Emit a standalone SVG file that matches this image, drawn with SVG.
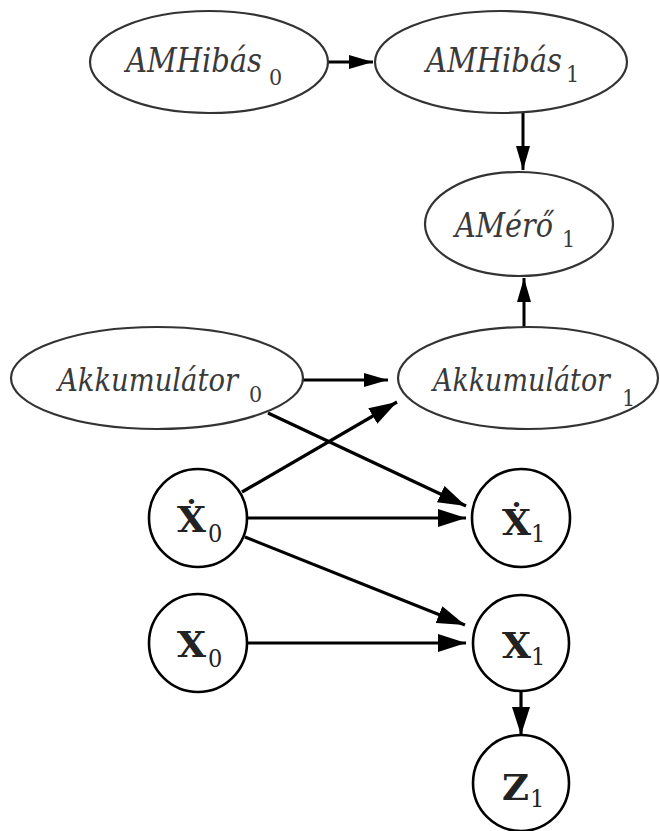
<svg xmlns="http://www.w3.org/2000/svg" width="660" height="831" viewBox="0 0 660 831">
<style>
.ell{fill:#fff;stroke:#333;stroke-width:2.2}
.cir{fill:#fff;stroke:#000;stroke-width:2.6}
.it{font-family:"DejaVu Serif Condensed","DejaVu Serif",serif;font-style:italic;font-size:33px;fill:#3a3a3a}
.akk{font-size:31px}
.sub{font-family:"DejaVu Serif Condensed","DejaVu Serif",serif;font-style:normal;font-weight:normal;font-size:23px}
.bx{font-family:"DejaVu Serif","Liberation Serif",serif;font-size:36px;font-weight:bold;fill:#222}
.bs{font-family:"DejaVu Serif Condensed","DejaVu Serif",serif;font-weight:normal;font-size:25px}
.edge{stroke:#000;stroke-width:3.2;fill:none}
.edge2{stroke:#000;stroke-width:3;fill:none;marker-end:url(#ah2)}
.e{marker-end:url(#ah)}
</style>
<defs>
<marker id="ah" viewBox="0 0 28 18" refX="28" refY="9" markerWidth="28" markerHeight="18" markerUnits="userSpaceOnUse" orient="auto">
<path d="M0,0 L28,9 L0,18 z" fill="#000"/>
</marker>
<marker id="ah2" viewBox="0 0 24 14" refX="24" refY="7" markerWidth="24" markerHeight="14" markerUnits="userSpaceOnUse" orient="auto">
<path d="M0,0 L24,7 L0,14 z" fill="#000"/>
</marker>
</defs>
<rect width="660" height="831" fill="#fff"/>
<g id="connectors">
<line class="edge2" x1="328" y1="62" x2="373" y2="62"/>
<line class="edge2" x1="523" y1="113" x2="523" y2="170"/>
<line class="edge2" x1="524" y1="327" x2="524" y2="278"/>
<line class="edge2" x1="303" y1="380" x2="388" y2="380"/>
<line class="edge e" x1="242" y1="492" x2="397" y2="402"/>
<line class="edge e" x1="268" y1="413" x2="466" y2="506"/>
<line class="edge e" x1="248" y1="518" x2="466" y2="518"/>
<line class="edge e" x1="245" y1="537" x2="465" y2="625"/>
<line class="edge e" x1="248" y1="643" x2="466" y2="643"/>
<line class="edge e" x1="521" y1="691" x2="521" y2="735"/>
</g>
<g id="amhibas0">
<ellipse class="ell" cx="209" cy="62" rx="119" ry="51"/>
<text class="it" x="126" y="72"><tspan textLength="136" lengthAdjust="spacingAndGlyphs">AMHibás</tspan><tspan class="sub" x="269" y="85">0</tspan></text>
</g>
<g id="amhibas1">
<ellipse class="ell" cx="501" cy="62" rx="126" ry="51"/>
<text class="it" x="426" y="72"><tspan textLength="136" lengthAdjust="spacingAndGlyphs">AMHibás</tspan><tspan class="sub" x="566" y="82">1</tspan></text>
</g>
<g id="amero1">
<ellipse class="ell" cx="519" cy="224" rx="94" ry="52"/>
<text class="it" x="455" y="237"><tspan textLength="98" lengthAdjust="spacingAndGlyphs">AMérő</tspan><tspan class="sub" x="562" y="247">1</tspan></text>
</g>
<g id="akk0">
<ellipse class="ell" cx="157" cy="378" rx="146" ry="51"/>
<text class="it akk" x="58" y="391"><tspan textLength="180" lengthAdjust="spacingAndGlyphs">Akkumulátor</tspan><tspan class="sub" x="249" y="402">0</tspan></text>
</g>
<g id="akk1">
<ellipse class="ell" cx="528" cy="378" rx="130" ry="51"/>
<text class="it akk" x="433" y="391"><tspan textLength="177" lengthAdjust="spacingAndGlyphs">Akkumulátor</tspan><tspan class="sub" x="622" y="406">1</tspan></text>
</g>
<g id="xdot0">
<circle class="cir" cx="198" cy="518" r="49"/>
<text class="bx" x="177" y="532"><tspan textLength="29" lengthAdjust="spacingAndGlyphs">Ẋ</tspan><tspan class="bs" x="208" y="542">0</tspan></text>
</g>
<g id="xdot1">
<circle class="cir" cx="521" cy="518" r="49"/>
<text class="bx" x="502" y="535"><tspan textLength="29" lengthAdjust="spacingAndGlyphs">Ẋ</tspan><tspan class="bs" x="531" y="542">1</tspan></text>
</g>
<g id="x0">
<circle class="cir" cx="198" cy="643" r="49"/>
<text class="bx" x="177" y="657"><tspan textLength="29" lengthAdjust="spacingAndGlyphs">X</tspan><tspan class="bs" x="208" y="667">0</tspan></text>
</g>
<g id="x1">
<circle class="cir" cx="521" cy="643" r="48"/>
<text class="bx" x="502" y="658"><tspan textLength="29" lengthAdjust="spacingAndGlyphs">X</tspan><tspan class="bs" x="531" y="665">1</tspan></text>
</g>
<g id="z1">
<circle class="cir" cx="521" cy="783" r="48"/>
<text class="bx" x="502" y="800"><tspan textLength="27" lengthAdjust="spacingAndGlyphs">Z</tspan><tspan class="bs" x="530" y="807">1</tspan></text>
</g>
</svg>
